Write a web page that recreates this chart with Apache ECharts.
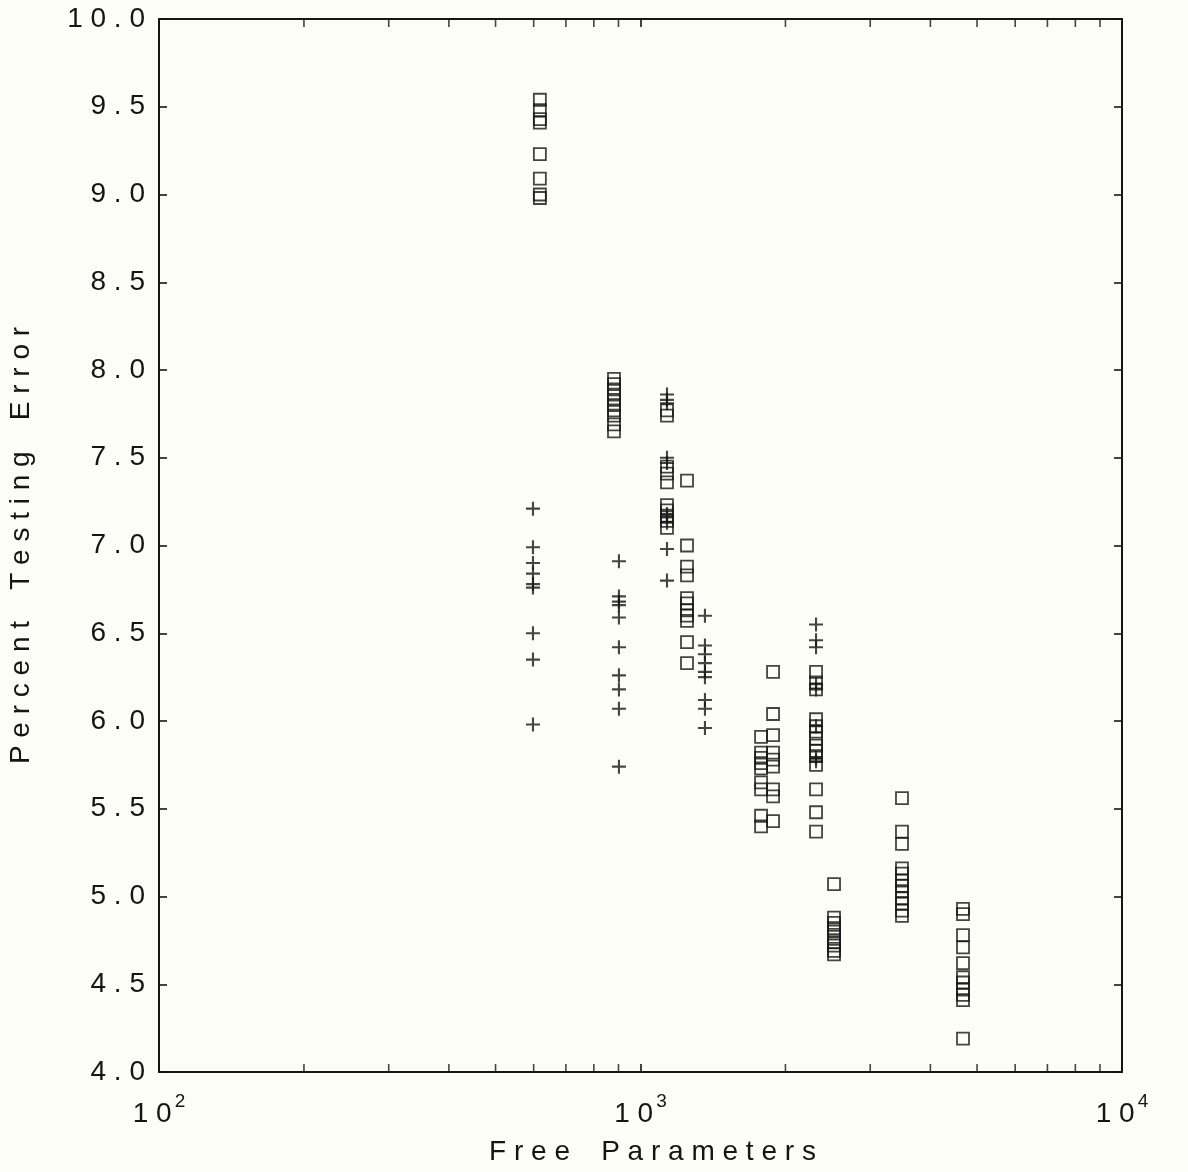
<!DOCTYPE html>
<html>
<head>
<meta charset="utf-8">
<script src="https://cdn.jsdelivr.net/npm/echarts@6/dist/echarts.min.js"></script>
<style>
  html, body { margin: 0; padding: 0; background: #fdfdf8; }
  #chart { width: 1188px; height: 1172px; }
</style>
</head>
<body>
<div id="chart"></div>
<script>
// Open squares: x position (free parameters) and the error values stacked at it
const boxX = [618, 881, 1135, 1249, 1780, 1885, 2315, 2523, 3492, 4675];
const boxY = [
  [9.54, 9.48, 9.43, 9.41, 9.23, 9.09, 9.00, 8.98],
  [7.95, 7.92, 7.89, 7.86, 7.83, 7.80, 7.77, 7.74, 7.69, 7.65],
  [7.77, 7.74, 7.45, 7.41, 7.36, 7.23, 7.20, 7.17, 7.14, 7.10],
  [7.37, 7.00, 6.88, 6.83, 6.70, 6.67, 6.63, 6.60, 6.57, 6.45, 6.33],
  [5.91, 5.82, 5.79, 5.76, 5.73, 5.65, 5.61, 5.46, 5.40],
  [6.28, 6.04, 5.92, 5.82, 5.78, 5.74, 5.61, 5.57, 5.43],
  [6.28, 6.22, 6.18, 6.01, 5.97, 5.94, 5.90, 5.86, 5.83, 5.80, 5.75, 5.61, 5.48, 5.37],
  [5.07, 4.88, 4.85, 4.82, 4.80, 4.77, 4.74, 4.72, 4.69, 4.67],
  [5.56, 5.37, 5.30, 5.16, 5.13, 5.09, 5.06, 5.03, 4.99, 4.96, 4.92, 4.89],
  [4.93, 4.90, 4.78, 4.71, 4.62, 4.54, 4.51, 4.47, 4.44, 4.41, 4.19]
];
// Plus markers
const plusX = [598, 902, 1135, 1361, 2315];
const plusY = [
  [7.21, 6.99, 6.90, 6.84, 6.78, 6.76, 6.50, 6.35, 5.98],
  [6.91, 6.71, 6.68, 6.66, 6.59, 6.42, 6.26, 6.18, 6.07, 5.74],
  [7.86, 7.83, 7.81, 7.50, 7.47, 7.18, 7.16, 7.13, 6.98, 6.80],
  [6.60, 6.43, 6.38, 6.33, 6.28, 6.25, 6.12, 6.07, 5.96],
  [6.55, 6.46, 6.42, 6.21, 6.18, 5.97, 5.79, 5.77]
];
// Axis settings
const xMin = 100, xMax = 10000;
const yMin = 4, yMax = 10, yStep = 0.5;
const minorTickX = [200, 300, 400, 500, 600, 700, 800, 900, 2000, 3000, 4000, 5000, 6000, 7000, 8000, 9000];
const xTitle = 'Free Parameters';
const yTitle = 'Percent Testing Error';

const spaced = s => s.split('').join(' ');
const FONT = 'Liberation Sans';
const INK = '#151515';

const boxData = [];
boxX.forEach((x, i) => boxY[i].forEach(y => boxData.push([x, y])));
const plusData = [];
plusX.forEach((x, i) => plusY[i].forEach(y => plusData.push([x, y])));
const minorBottom = minorTickX.map(x => [x, yMin]);
const minorTop = minorTickX.map(x => [x, yMax]);

const chart = echarts.init(document.getElementById('chart'), null, { renderer: 'canvas' });

const axisLine = { show: true, onZero: false, lineStyle: { color: INK, width: 2 } };
const tick = { show: true, inside: true, length: 8, lineStyle: { color: INK, width: 1.6 } };

chart.setOption({
  backgroundColor: '#fdfdf8',
  animation: false,
  grid: { left: 159, right: 66, top: 19, bottom: 100, containLabel: false, outerBoundsMode: 'none' },
  xAxis: [
    {
      type: 'log', logBase: 10, min: xMin, max: xMax, position: 'bottom',
      axisLine, axisTick: tick, splitLine: { show: false },
      axisLabel: {
        margin: 20,
        formatter: v => '{b|' + spaced('10') + '}{s|' + Math.round(Math.log10(v)) + '}',
        rich: {
          b: { fontFamily: FONT, fontSize: 28, color: INK, verticalAlign: 'bottom', lineHeight: 36 },
          s: { fontFamily: FONT, fontSize: 19, color: INK, verticalAlign: 'top', lineHeight: 36, padding: [0, 0, 0, 3] }
        }
      },
      name: spaced(xTitle).replace(/   /g, '    '), nameLocation: 'middle', nameGap: 66,
      nameTextStyle: { fontFamily: FONT, fontSize: 28, color: INK, padding: [0, 0, 0, 24] }
    },
    {
      type: 'log', logBase: 10, min: xMin, max: xMax, position: 'top',
      axisLine, axisTick: tick, splitLine: { show: false }, axisLabel: { show: false }
    }
  ],
  yAxis: [
    {
      type: 'value', min: yMin, max: yMax, interval: yStep, position: 'left',
      axisLine, axisTick: tick, splitLine: { show: false },
      axisLabel: {
        margin: 14, fontFamily: FONT, fontSize: 28, color: INK,
        formatter: v => spaced(v.toFixed(1))
      },
      name: spaced(yTitle).replace(/   /g, '    '), nameLocation: 'middle', nameGap: 124,
      nameTextStyle: { fontFamily: FONT, fontSize: 28, color: INK }
    },
    {
      type: 'value', min: yMin, max: yMax, interval: yStep, position: 'right',
      axisLine, axisTick: tick, splitLine: { show: false }, axisLabel: { show: false }
    }
  ],
  series: [
    {
      type: 'scatter', name: 'squares', data: boxData,
      symbol: 'rect', symbolSize: 12,
      itemStyle: { color: 'transparent', borderColor: INK, borderWidth: 1.8 },
      emphasis: { disabled: true }, silent: true
    },
    {
      type: 'scatter', name: 'plus', data: plusData,
      symbol: 'path://M0,6 L12,6 M6,0 L6,12', symbolSize: 14,
      itemStyle: { color: 'transparent', borderColor: INK, borderWidth: 2.1 },
      emphasis: { disabled: true }, silent: true
    },
    {
      type: 'scatter', data: minorBottom, clip: false,
      symbol: 'rect', symbolSize: [1.6, 8], symbolOffset: [0, -4],
      itemStyle: { color: INK }, emphasis: { disabled: true }, silent: true
    },
    {
      type: 'scatter', data: minorTop, clip: false,
      symbol: 'rect', symbolSize: [1.6, 8], symbolOffset: [0, 4],
      itemStyle: { color: INK }, emphasis: { disabled: true }, silent: true
    }
  ]
});
</script>
</body>
</html>
